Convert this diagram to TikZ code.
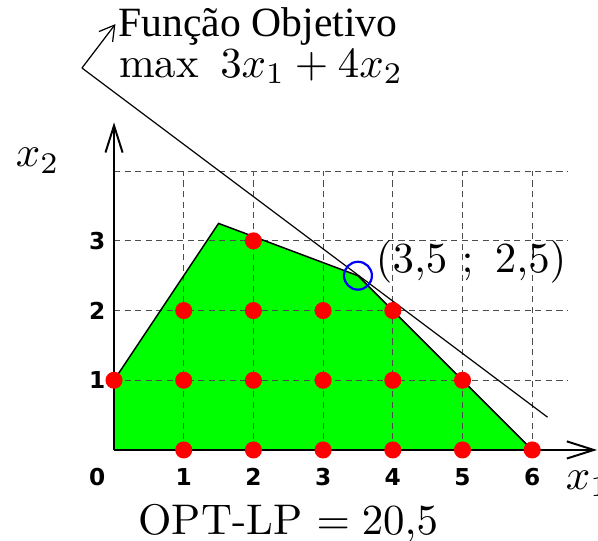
\documentclass[tikz,border=0pt]{standalone}
\usepackage{fontspec}
\newfontfamily\tickfont{DejaVu Sans}
\newfontfamily\timesfont{Liberation Serif}
\usetikzlibrary{arrows.meta}
\begin{document}
\begin{tikzpicture}[x=1cm, y=1cm,
    ponto/.style={circle, fill=red, inner sep=0pt, minimum size=0.245cm},
    rotulo/.style={font=\tickfont\bfseries\fontsize{9.5}{11}\selectfont},
    grande/.style={font=\fontsize{10}{12}\selectfont, inner sep=0pt, scale=1.75, transform shape},
    eixo/.style={line width=0.8pt, -{Straight Barb[length=11pt, width=7pt]}}]
  \useasboundingbox (-1.636,-1.306) rectangle (6.944,6.456);
  \coordinate (o) at (0,0); \coordinate (a) at (0,1); \coordinate (b) at (1.5,3.25);
  \coordinate (opt) at (3.5,2.5); \coordinate (c) at (6,0);
  \coordinate (ex) at (6.93,0); \coordinate (ey) at (0,4.7);
  \coordinate (fs) at (-0.46,5.48); \coordinate (fe) at (6.22,0.47); \coordinate (fv) at (0.02,6.11);
  % regiao viavel
  \fill[green] (o) -- (a) -- (b) -- (opt) -- (c) -- cycle;
  \foreach \i in {1,...,6} \draw[black!70, line width=0.4pt, dash pattern=on 2.5pt off 1.8pt] (\i,0) -- (\i,4);
  \foreach \j in {1,...,4} \draw[black!70, line width=0.4pt, dash pattern=on 2.5pt off 1.8pt] (0,\j) -- (6.5,\j);
  \draw[line width=0.6pt] (a) -- (b) -- (opt) -- (c);
  % eixos
  \draw[eixo] (o) -- (ex);
  \draw[eixo] (o) -- (ey);
  \node[grande, anchor=base west] (lx1) at (6.47,-0.57) {$x_1$};
  \node[grande, anchor=base west] (lx2) at (-1.42,4.06) {$x_2$};
  \node[rotulo] (t0) at (-0.24,-0.39) {0};
  \foreach \i in {1,...,6} \node[rotulo] (tx\i) at (\i,-0.39) {\i};
  \foreach \j in {1,2,3} \node[rotulo] (ty\j) at (-0.24,\j) {\j};
  % funcao objetivo
  \draw[line width=0.5pt] (fs) -- (fe);
  \draw[line width=0.5pt, -{Straight Barb[length=6pt, width=7pt]}] (fs) -- (fv);
  \node[inner sep=0pt, anchor=base west, font=\timesfont\fontsize{17}{20}\selectfont] (fo) at (0.06,5.93) {Função Objetivo};
  \node[grande, anchor=base west] (fmax) at (0.06,5.35) {$\max\ 3x_1 + 4x_2$};
  % pontos inteiros
  \foreach \i in {1,...,6} \node[ponto] (p\i0) at (\i,0) {};
  \foreach \i in {0,...,5} \node[ponto] (p\i1) at (\i,1) {};
  \foreach \i in {1,...,4} \node[ponto] (p\i2) at (\i,2) {};
  \node[ponto] (p23) at (2,3) {};
  \draw[blue, line width=0.9pt] (opt) circle (0.2);
  \node[grande, anchor=base west] (lopt) at (3.745,2.55) {$(3{,}5\ ;\ 2{,}5)$};
  \node[grande, anchor=base west] (lp) at (0.34,-1.22) {OPT-LP $= 20{,}5$};
\end{tikzpicture}
\end{document}
